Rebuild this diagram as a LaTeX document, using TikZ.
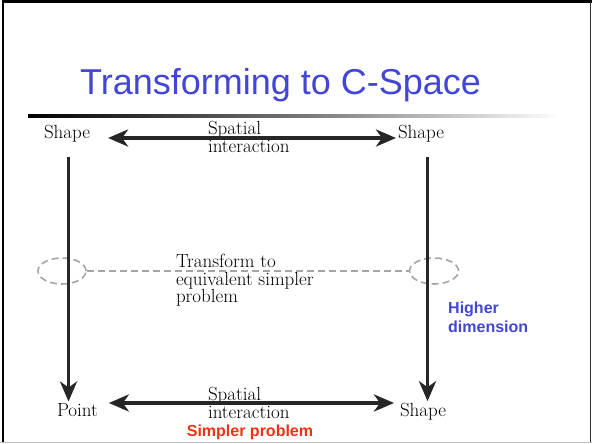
\documentclass[tikz,border=0pt]{standalone}
\usepackage{fontspec}
\newfontfamily\slidesans{Liberation Sans}
\usetikzlibrary{shapes.geometric, arrows.meta}
\definecolor{slideblue}{RGB}{66,70,214}
\definecolor{slidered}{RGB}{240,50,20}
\definecolor{ringgray}{RGB}{165,165,165}
\tikzstyle{word} = [inner sep=0, outer sep=0, font=\fontsize{19}{17.5}\selectfont, text=black]
\tikzstyle{note} = [word, align=left, anchor=north west]
\tikzstyle{remark} = [inner sep=0, align=left, font=\slidesans\bfseries\fontsize{16}{19}\selectfont]
\tikzstyle{ring} = [ellipse, draw=ringgray, dashed, dash pattern=on 7pt off 4pt, line width=1.6pt, inner sep=0]
\tikzstyle{line} = [draw, line width=3.5pt, black!85, >={Stealth[length=20pt, width=17pt, inset=6pt]}]

\begin{document}
\begin{tikzpicture}[x=1pt, y=1pt]
\useasboundingbox (0,0) rectangle (592,444);

% slide frame
\draw [line width=2.5pt] (3,444) -- (3,2) (3,442.5) -- (592,442.5);
\draw [line width=1pt, black!80] (590.5,442) -- (590.5,2);
\draw [line width=1.5pt, black!25] (0,1.5) -- (592,1.5);

% heading and rule
\node [inner sep=0, anchor=base west, text=slideblue, font=\slidesans\fontsize{36}{40}\selectfont] (title) at (80,349) {Transforming to C-Space};
\shade [left color=black, right color=white, middle color=black!55] (28,326) rectangle (560,329);

\node [word, anchor=base west] (tl) at (44,305) {Shape};
\node [word, anchor=base west] (tr) at (398,305) {Shape};
\node [word, anchor=base west] (pt) at (57,27) {Point};
\node [word, anchor=base west] (br) at (400,27) {Shape};

\node [note] (topnote) at (208,322.5) {Spatial\\interaction};
\node [note] (botnote) at (208,56.5) {Spatial\\interaction};
\node [note] (mid) at (176,189.5) {Transform to\\equivalent simpler\\problem};

\node [ring, minimum width=48pt, minimum height=26pt] (lring) at (62,173) {};
\node [ring, minimum width=49pt, minimum height=26pt] (rring) at (434,173) {};
\path [draw=ringgray, dash pattern=on 7pt off 4pt, line width=1.6pt] (lring.east) -- (rring.west);

\path [line, <->, shorten <=18pt, shorten >=2pt] ([yshift=1pt]tl.base east) -- ([yshift=1pt]tr.base west);
\path [line, <->, shorten <=11pt, shorten >=6pt] ([yshift=14pt]pt.base east) -- ([yshift=14pt]br.base west);
\path [line, ->] ([xshift=1.5pt, yshift=-14pt]tl.south) -- ([xshift=1.5pt, yshift=2.5pt]tl.south |- pt.north);
\path [line, ->] ([xshift=6.5pt, yshift=-14pt]tr.south) -- ([xshift=6.5pt, yshift=2.5pt]tr.south |- br.north);

\node [remark, text=slideblue, anchor=north west] (higher) at (448,142) {Higher\\dimension};
\node [remark, text=slidered, anchor=base] (simpler) at (250,7) {Simpler problem};

\end{tikzpicture}
\end{document}
